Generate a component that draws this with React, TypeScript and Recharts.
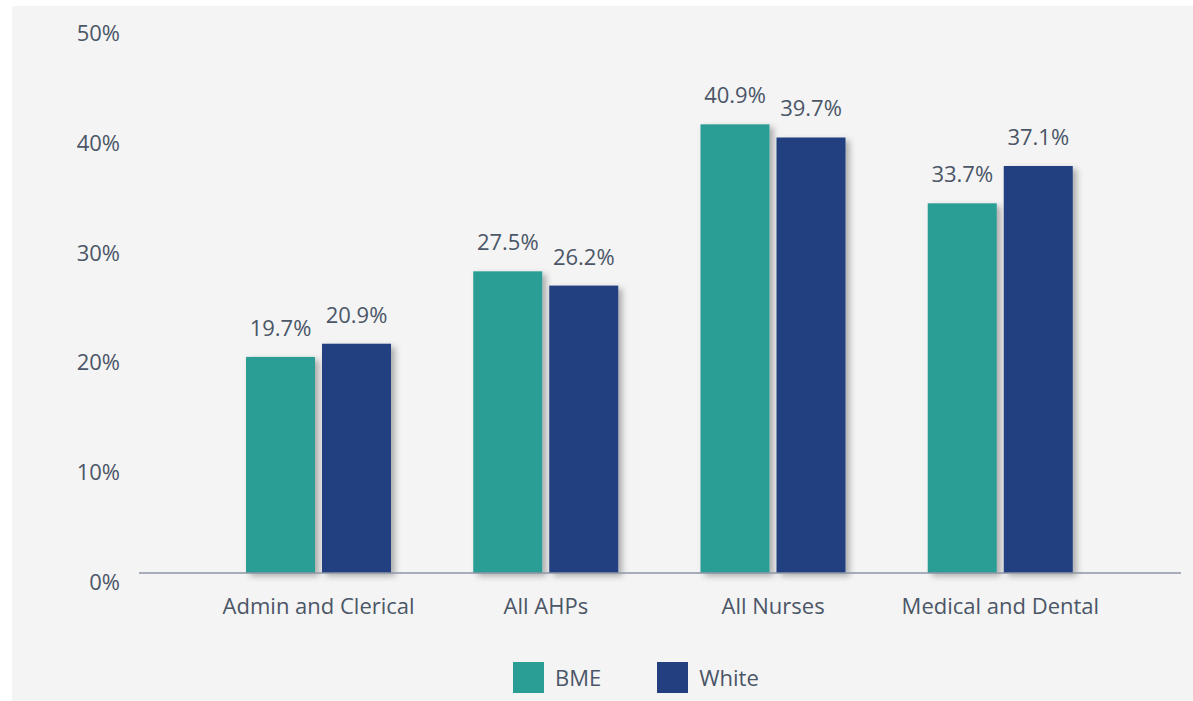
import React from 'react';
import { BarChart, Bar, XAxis, YAxis, LabelList } from 'recharts';

const categories = ['Admin and Clerical', 'All AHPs', 'All Nurses', 'Medical and Dental'];
const bmeValues = [19.7, 27.5, 40.9, 33.7];
const whiteValues = [20.9, 26.2, 39.7, 37.1];
const yTicks = [0, 10, 20, 30, 40, 50];

const SERIES = [
    { key: 'bme', name: 'BME', color: '#2a9d94' },
    { key: 'white', name: 'White', color: '#243f80' },
];

const TEXT = '#4b5667';
const FONT = '"Open Sans", "Noto Sans", sans-serif';

const data = categories.map((name, i) => ({ name, bme: bmeValues[i], white: whiteValues[i] }));

const YTick = (props: any) => {
    const { x, y, payload } = props;
    return (
        <text x={x} y={y + 9} dy="0.355em" textAnchor="end" fill={TEXT} fontSize={22} fontFamily={FONT}>
            {`${payload.value}%`}
        </text>
    );
};

const XTick = (props: any) => {
    const { x, y, payload } = props;
    return (
        <text x={x} y={y + 25} dy="0.355em" textAnchor="middle" fill={TEXT} fontSize={22} fontFamily={FONT}>
            {payload.value}
        </text>
    );
};

const ShadowBar = (props: any) => {
    const { x, y, width, height, fill } = props;
    return <rect x={x} y={y} width={width} height={height} fill={fill} filter="url(#barShadow)" />;
};

const App: React.FC = () => {
    return (
        <div style={{ position: 'absolute', left: 12, top: 6, width: 1181, height: 695, background: '#f4f4f4', fontFamily: FONT }}>
            <BarChart
                width={1181}
                height={640}
                data={data}
                margin={{ top: 18.5, right: 12, left: 0, bottom: 0 }}
                barSize={69}
                barGap={7}
            >
                <defs>
                    <filter id="barShadow" x="-20%" y="-20%" width="150%" height="150%">
                        <feDropShadow dx={4} dy={3} stdDeviation={3} floodColor="#000" floodOpacity={0.3} />
                    </filter>
                </defs>
                <XAxis
                    dataKey="name"
                    height={73}
                    padding={{ left: 66, right: 67 }}
                    axisLine={{ stroke: '#8d96a5', strokeWidth: 1.5 }}
                    tickLine={false}
                    tick={<XTick />}
                    interval={0}
                />
                <YAxis
                    width={127}
                    domain={[0, 50]}
                    ticks={yTicks}
                    axisLine={false}
                    tickLine={false}
                    tickSize={0}
                    tickMargin={19}
                    tick={<YTick />}
                />
                {SERIES.map(s => (
                    <Bar key={s.key} dataKey={s.key} name={s.name} fill={s.color} shape={<ShadowBar />} isAnimationActive={false}>
                        <LabelList
                            dataKey={s.key}
                            position="top"
                            offset={21}
                            formatter={(v: any) => `${v}%`}
                            fill={TEXT}
                            fontSize={22}
                            fontFamily={FONT}
                        />
                    </Bar>
                ))}
            </BarChart>
            <div style={{ position: 'absolute', top: 656, left: 501, display: 'flex', alignItems: 'center' }}>
                {SERIES.map(s => (
                    <div key={s.key} style={{ display: 'flex', alignItems: 'center', marginRight: 56 }}>
                        <span style={{ width: 31, height: 31, background: s.color, display: 'inline-block', marginRight: 11 }} />
                        <span style={{ fontSize: 22, color: TEXT, lineHeight: '31px' }}>{s.name}</span>
                    </div>
                ))}
            </div>
        </div>
    );
};

export default App;
